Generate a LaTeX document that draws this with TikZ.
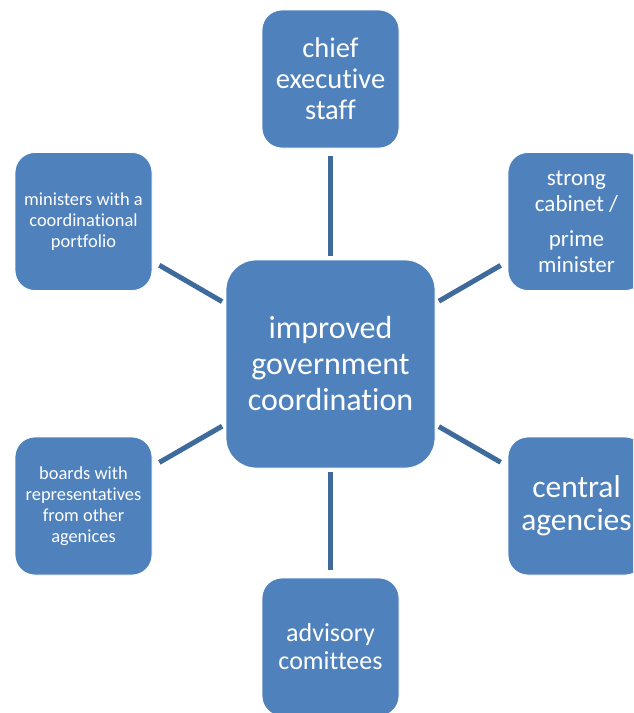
\documentclass[tikz,border=0pt]{standalone}
\usepackage{fontspec}
\setmainfont[Ligatures=NoCommon]{Carlito}
\definecolor{boxblue}{HTML}{4F81BD}
\definecolor{linkblue}{HTML}{3E6A9C}

\begin{document}
\begin{tikzpicture}[
  x=1pt, y=-1pt,
  box/.style={draw=white, line width=0.8pt, fill=boxblue, rounded corners=20pt, minimum width=137pt, minimum height=138pt, align=center, text=white, inner sep=2pt},
  hub/.style={box, rounded corners=30pt, minimum width=209pt, minimum height=208pt},
  link/.style={draw=linkblue, line width=5pt, shorten <=4pt, shorten >=8pt}
]
\clip (0,0) rectangle (633,713);

% Centre - the goal
\node[hub, font=\fontsize{32}{36}\selectfont] (hub) at (330.5,364) {
  improved\\government\\coordination
};

% Ring of measures round it
\node[box, font=\fontsize{28.5}{31}\selectfont] (chief) at (330.5,79) {
  chief\\executive\\staff
};

\node[box, font=\fontsize{23}{26}\selectfont] (cabinet) at (576.5,221.5) {
  strong\\cabinet /\\[9pt]prime\\minister
};

\node[box, font=\fontsize{31.5}{33}\selectfont] (agencies) at (576.5,506) {
  central\\agencies
};

\node[box, font=\fontsize{26}{28}\selectfont] (advisory) at (330.5,647) {
  advisory\\comittees
};

\node[box, font=\fontsize{18.4}{21}\selectfont] (boards) at (83.5,506) {
  boards with\\representatives\\from other\\agenices
};

\node[box, font=\fontsize{18.4}{21}\selectfont] (ministers) at (83.5,221.5) {
  ministers with a\\coordinational\\portfolio
};

% Spokes
\foreach \outer in {chief, cabinet, agencies, advisory, boards, ministers}
  \draw[link] (hub) -- (\outer);

\end{tikzpicture}
\end{document}
